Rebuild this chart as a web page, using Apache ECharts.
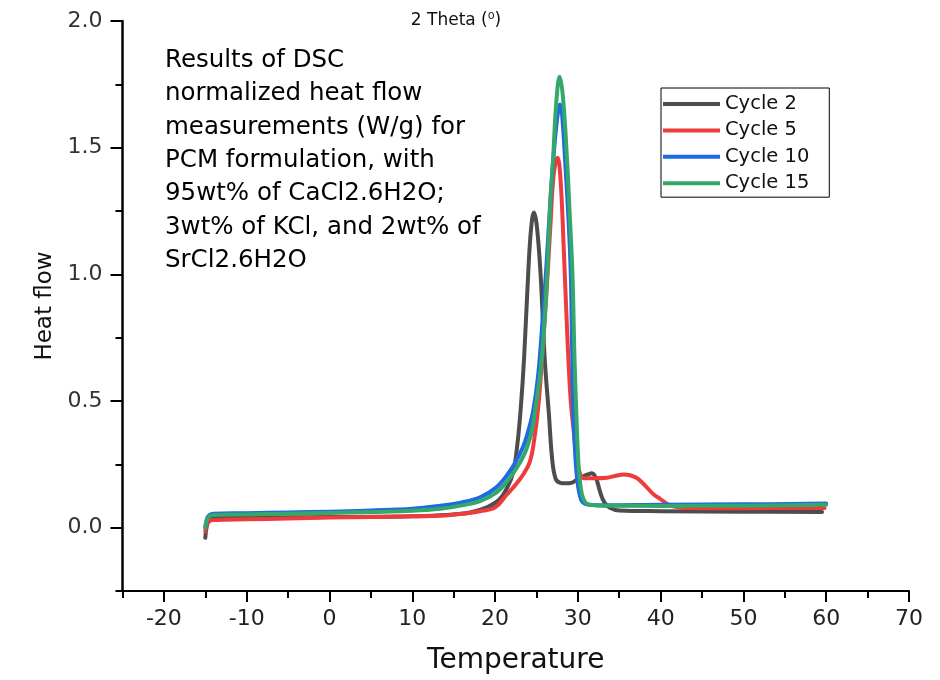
<!DOCTYPE html>
<html>
<head>
<meta charset="utf-8">
<script src="https://cdn.jsdelivr.net/npm/echarts@6/dist/echarts.min.js"></script>
<style>
html,body{margin:0;padding:0;background:#fff;}
#chart{width:940px;height:680px;}
</style>
</head>
<body>
<div id="chart"></div>
<script>
// ---- data ----
const seriesNames = ['Cycle 2', 'Cycle 5', 'Cycle 10', 'Cycle 15'];
const seriesColors = ['#4d4d4d', '#ef3b3b', '#1e6ae0', '#34a86a'];

const cycle2 = [
  [-15.0,-0.04],[-14.9,-0.01],[-14.7,0.02],[-14.4,0.035],[-13.5,0.04],[-10,0.04],[-5,0.041],[0,0.042],
  [5,0.043],[10,0.045],[14,0.05],[17,0.06],[19,0.08],[20.5,0.11],[21.5,0.16],[22.2,0.22],[22.7,0.33],
  [23.1,0.47],[23.5,0.665],[24.0,1.0],[24.35,1.18],[24.7,1.244],[25.05,1.19],[25.5,1.0],[26.0,0.665],
  [26.5,0.45],[26.9,0.27],[27.3,0.195],[27.8,0.178],[28.5,0.175],[29.3,0.178],[29.9,0.19],
  [30.5,0.2],[31.2,0.21],[31.7,0.215],[32.2,0.195],[32.7,0.14],[33.2,0.1],[33.8,0.08],[35,0.068],
  [40,0.065],[50,0.063],[59.5,0.062]
];
const cycle5 = [
  [-15.0,-0.015],[-14.8,0.012],[-14.5,0.026],[-14,0.03],[-10,0.033],[-5,0.036],[0,0.04],[5,0.042],
  [10,0.045],[13.4,0.047],[16,0.055],[18.2,0.065],[20,0.08],[21.4,0.13],[22.5,0.17],[23.5,0.215],
  [24.2,0.26],[24.7,0.34],[25.2,0.47],[25.7,0.68],[26.2,0.92],[26.7,1.2],[27.1,1.4],
  [27.55,1.46],[27.9,1.38],[28.3,1.1],[28.7,0.78],[29.1,0.52],[29.5,0.38],[29.9,0.27],[30.3,0.21],
  [30.8,0.195],[32,0.195],[33.5,0.197],[34.6,0.205],[35.5,0.21],[36.3,0.207],[37.2,0.195],[38.3,0.16],
  [39.2,0.13],[39.9,0.115],[40.6,0.098],[41.3,0.085],[43,0.078],[50,0.077],[59.8,0.078]
];
const cycle10 = [
  [-15.0,0.0],[-14.8,0.035],[-14.5,0.05],[-14,0.055],[-10,0.057],[-5,0.06],[0,0.063],[5,0.068],
  [10,0.075],[13.4,0.087],[16,0.1],[18.2,0.12],[20,0.155],[21.4,0.205],[22.5,0.26],[23.4,0.32],
  [24.0,0.38],[24.6,0.46],[25.2,0.6],[25.7,0.8],[26.2,1.03],[26.7,1.3],[27.2,1.52],[27.6,1.64],
  [27.85,1.67],[28.1,1.63],[28.5,1.43],[28.9,1.2],[29.15,1.0],[29.3,0.72],[29.45,0.47],[29.7,0.28],
  [30.0,0.17],[30.4,0.11],[30.8,0.095],[31.5,0.09],[33,0.088],[40,0.09],[50,0.092],[60,0.095]
];
const cycle15 = [
  [-15.0,0.0],[-14.8,0.03],[-14.5,0.045],[-14,0.05],[-10,0.052],[-5,0.055],[0,0.058],[5,0.062],
  [10,0.067],[13.4,0.075],[16,0.088],[18.2,0.105],[20,0.135],[21.4,0.18],[22.5,0.23],[23.4,0.28],
  [24.0,0.33],[24.5,0.39],[25.0,0.5],[25.5,0.62],[25.9,0.78],[26.3,1.0],[26.7,1.3],[27.0,1.45],
  [27.4,1.68],[27.8,1.78],[28.2,1.7],[28.7,1.45],[29.0,1.25],[29.35,1.0],[29.6,0.665],[29.8,0.47],
  [30.0,0.3],[30.2,0.2],[30.5,0.13],[30.9,0.1],[31.3,0.092],[33,0.087],[40,0.086],[50,0.087],[60,0.09]
];

const xTickLabels = [-20, -10, 0, 10, 20, 30, 40, 50, 60, 70];
const xMinorTicks = [-25, -15, -5, 5, 15, 25, 35, 45, 55, 65];
const yTickLabels = [0, 0.5, 1.0, 1.5, 2.0];
const yMinorTicks = [-0.25, 0.25, 0.75, 1.25, 1.75];

const titleText = '2 Theta (\u2070)';
const noteLines = [
  'Results of DSC',
  'normalized heat flow',
  'measurements (W/g) for',
  'PCM formulation, with',
  '95wt% of CaCl2.6H2O;',
  '3wt% of KCl, and 2wt% of',
  'SrCl2.6H2O'
];

// ---- chart ----
const FONT = '"DejaVu Sans", "Liberation Sans", Arial, sans-serif';
const chart = echarts.init(document.getElementById('chart'));
const allData = [cycle2, cycle5, cycle10, cycle15];

chart.setOption({
  backgroundColor: '#fff',
  animation: false,
  grid: { left: 122.5, right: 31, top: 21, bottom: 87, containLabel: false },
  legend: {
    orient: 'vertical',
    left: 661, top: 88,
    padding: [6, 20, 4, 2],
    borderColor: '#000', borderWidth: 1,
    itemWidth: 57, itemHeight: 4, itemGap: 6.4,
    icon: 'rect',
    textStyle: { fontFamily: FONT, fontSize: 19.5, color: '#111', lineHeight: 20 },
    data: seriesNames
  },
  xAxis: [
    {
      type: 'value', min: -25, max: 70, position: 'bottom',
      name: 'Temperature', nameLocation: 'middle', nameGap: 56,
      nameTextStyle: { fontFamily: FONT, fontSize: 28, color: '#111' },
      axisLine: { show: true, onZero: false, lineStyle: { color: '#000', width: 2 } },
      axisTick: { show: true, customValues: xTickLabels, length: 11, lineStyle: { color: '#000', width: 2 } },
      axisLabel: { customValues: xTickLabels, fontFamily: FONT, fontSize: 22, color: '#222', margin: 17 },
      splitLine: { show: false }
    },
    {
      type: 'value', min: -25, max: 70, position: 'bottom',
      axisLine: { show: false, onZero: false },
      axisTick: { show: true, customValues: xMinorTicks, length: 7, lineStyle: { color: '#000', width: 2 } },
      axisLabel: { show: false },
      splitLine: { show: false }
    }
  ],
  yAxis: [
    {
      type: 'value', min: -0.25, max: 2.0, position: 'left',
      name: 'Heat flow', nameLocation: 'middle', nameGap: 66,
      nameTextStyle: { fontFamily: FONT, fontSize: 23, color: '#111' },
      axisLine: { show: true, onZero: false, lineStyle: { color: '#000', width: 2.5 } },
      axisTick: { show: true, customValues: yTickLabels, length: 12, lineStyle: { color: '#000', width: 2 } },
      axisLabel: { customValues: yTickLabels, fontFamily: FONT, fontSize: 22, color: '#333', margin: 20,
                   formatter: v => v.toFixed(1) },
      splitLine: { show: false }
    },
    {
      type: 'value', min: -0.25, max: 2.0, position: 'left',
      axisLine: { show: false, onZero: false },
      axisTick: { show: true, customValues: yMinorTicks, length: 7, lineStyle: { color: '#000', width: 2 } },
      axisLabel: { show: false },
      splitLine: { show: false }
    }
  ],
  graphic: [
    {
      type: 'text',
      style: { text: titleText, x: 456, y: 21, align: 'center', verticalAlign: 'middle',
               fontFamily: FONT, fontSize: 17, fill: '#111' }
    },
    {
      type: 'text',
      style: { text: noteLines.join('\n'), x: 165, y: 44, align: 'left', verticalAlign: 'top',
               fontFamily: FONT, fontSize: 24.5, lineHeight: 33.3, fill: '#000' }
    }
  ],
  series: seriesNames.map((name, i) => ({
    name: name,
    type: 'line',
    xAxisIndex: 0, yAxisIndex: 0,
    data: allData[i],
    showSymbol: false,
    smooth: 0.4,
    lineStyle: { color: seriesColors[i], width: 4, join: 'round', cap: 'round' },
    itemStyle: { color: seriesColors[i] },
    z: 2 + i
  }))
});
</script>
</body>
</html>
